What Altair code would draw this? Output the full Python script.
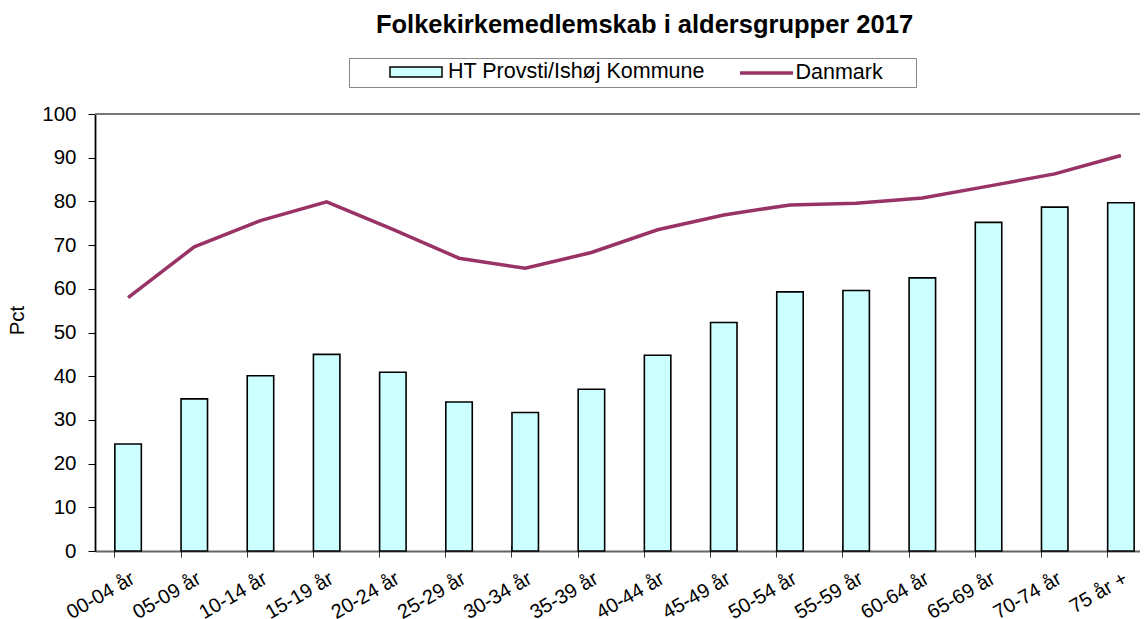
import altair as alt
import pandas as pd

groups = ["00-04 år", "05-09 år", "10-14 år", "15-19 år", "20-24 år", "25-29 år",
          "30-34 år", "35-39 år", "40-44 år", "45-49 år", "50-54 år", "55-59 år",
          "60-64 år", "65-69 år", "70-74 år", "75 år +"]
ht_values = [24.5, 34.8, 40.1, 45.0, 40.9, 34.1, 31.7, 37.0, 44.8, 52.3, 59.3, 59.6,
             62.5, 75.2, 78.7, 79.7]
dk_values = [58.0, 69.6, 75.6, 79.9, 73.6, 67.0, 64.7, 68.3, 73.5, 76.9, 79.2, 79.6,
             80.8, 83.5, 86.3, 90.5]
series = ["HT Provsti/Ishøj Kommune", "Danmark"]
series_colors = ["#CCFFFF", "#993366"]

FONT = "Liberation Sans"

bars_df = pd.DataFrame({"gruppe": groups, "pct": ht_values, "serie": series[0]})
line_df = pd.DataFrame({"gruppe": groups, "pct": dk_values, "serie": series[1]})

xscale = alt.Scale(domain=groups, paddingInner=0.6, paddingOuter=0.3, range=[0, 1059])
yscale = alt.Scale(domain=[0, 100])

# legend A: the bar entry, no frame of its own
legend_a = alt.Legend(
    orient="none", legendX=254, legendY=-57, direction="horizontal", title=None,
    padding=4, labelFont=FONT, labelFontSize=21.5, labelColor="black", labelLimit=2000,
    symbolType="M-2.6,-0.5H2.6V0.5H-2.6Z", symbolSize=400,
    symbolStrokeColor="black", symbolStrokeWidth=1.5, symbolFillColor="#CCFFFF",
    symbolOffset=52, labelOffset=21, zindex=2,
)
# legend B: the line entry; its frame encloses both entries
trail = "\u00a0" * 5 + "\u200b"
legend_b = alt.Legend(
    orient="none", legendX=254, legendY=-56, direction="horizontal", title=None,
    strokeColor="#888888", padding=3,
    labelFont=FONT, labelFontSize=21.5, labelColor="black", labelLimit=2000,
    symbolType="M-2.65,0H2.65", symbolSize=400, symbolStrokeWidth=3.5,
    symbolOffset=402.5, labelOffset=17, labelExpr=f"datum.label + '{trail}'", zindex=1,
)

bars = alt.Chart(bars_df).mark_bar(stroke="black", strokeWidth=1.6).encode(
    x=alt.X("gruppe:N", scale=xscale, sort=groups, title=None,
            axis=alt.Axis(labelAngle=330, labelAlign="right", labelBaseline="top",
                          labelPadding=17, labelFont=FONT, labelFontSize=20, labelColor="black",
                          ticks=False, domainColor="#666666", domainWidth=2)),
    y=alt.Y("pct:Q", scale=yscale, title="Pct",
            axis=alt.Axis(values=list(range(0, 101, 10)), grid=False, domainColor="black",
                          domainWidth=1.8, tickColor="black", tickSize=7, tickWidth=1,
                          labelFont=FONT, labelFontSize=20.5, labelColor="black", labelPadding=12,
                          titleFont=FONT, titleFontSize=20.5, titleFontWeight="normal",
                          titleColor="black", titlePadding=14, titleY=206)),
    fill=alt.Fill("serie:N", scale=alt.Scale(domain=[series[0]], range=[series_colors[0]]),
                  legend=legend_a),
)

line = alt.Chart(line_df).mark_line(strokeWidth=3.5).encode(
    x=alt.X("gruppe:N", scale=xscale, sort=groups, title=None,
            axis=alt.Axis(orient="bottom", labels=False, domain=False, ticks=True,
                          bandPosition=0, tickSize=12, tickColor="#333333", tickWidth=1,
                          offset=-6)),
    y=alt.Y("pct:Q", scale=yscale, axis=None),
    stroke=alt.Stroke("serie:N", scale=alt.Scale(domain=[series[1]], range=[series_colors[1]]),
                      legend=legend_b),
)

top = alt.Chart(pd.DataFrame({"v": [100]})).mark_rule(color="#777777", strokeWidth=2).encode(
    y=alt.Y("v:Q", scale=yscale, axis=None)
)

chart = alt.layer(top, bars, line).resolve_axis(x="independent", y="independent").properties(
    width=1045, height=437,
    autosize=alt.AutoSizeParams(type="none"),
    padding={"left": 87, "top": 106, "right": 0, "bottom": 68},
    title=alt.TitleParams("Folkekirkemedlemskab i aldersgrupper 2017", font=FONT, fontSize=25.5,
                          fontWeight="bold", color="black", anchor="middle", dx=27, offset=19),
).configure_view(stroke=None)

chart.save("out.html", embed_options={"renderer": "svg", "actions": False})
